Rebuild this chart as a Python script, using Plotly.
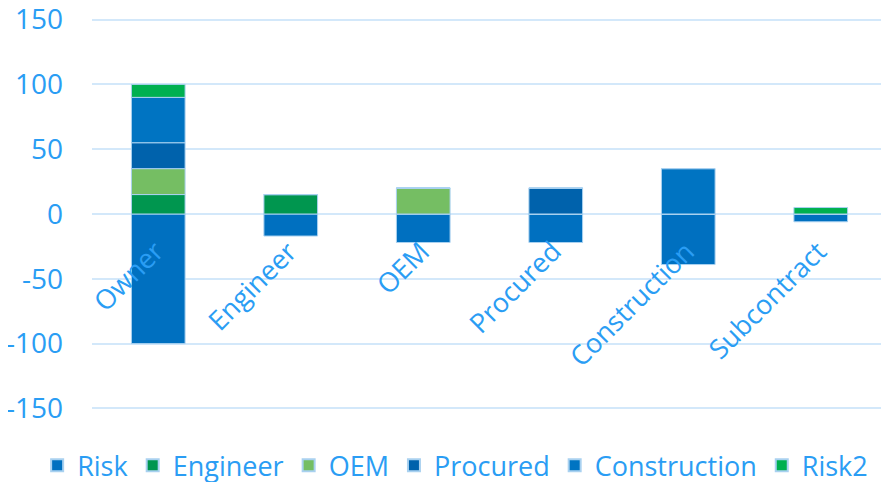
import plotly.graph_objects as go

categories = ["Owner", "Engineer", "OEM", "Procured", "Construction", "Subcontract"]
series_names = ["Risk", "Engineer", "OEM", "Procured", "Construction", "Risk2"]
risk = [-100, -17, -22, -22, -39, -6]
engineer = [15, 15, 0, 0, 0, 0]
oem = [20, 0, 20, 0, 0, 0]
procured = [20, 0, 0, 20, 0, 0]
construction = [35, 0, 0, 0, 35, 0]
risk2 = [10, 0, 0, 0, 0, 5]
y_ticks = [-150, -100, -50, 0, 50, 100, 150]

colors = ["#0070C0", "#00964F", "#75BE63", "#0062AC", "#0074C2", "#00B050"]
values = [risk, engineer, oem, procured, construction, risk2]

label_color = "#2A9DF4"
grid_color = "#D3E8FA"

fig = go.Figure()
for name, vals, col in zip(series_names, values, colors):
    fig.add_trace(go.Bar(
        x=categories, y=vals, name=name,
        marker=dict(color=col, line=dict(color="#A9D1F0", width=1)),
        width=0.405,
    ))

for c in categories:
    fig.add_annotation(
        x=c, y=0, xref="x", yref="y", text=c, showarrow=False,
        textangle=-45, xanchor="right", yanchor="top",
        xshift=16, yshift=-16,
        font=dict(family="Open Sans", size=27, color=label_color),
    )

# page body has an 8px margin, so the figure is drawn at (8, 8) in the window
fig.update_layout(
    width=881, height=474,
    barmode="relative",
    plot_bgcolor="white", paper_bgcolor="white",
    margin=dict(l=84, r=2, t=9.4, b=71.4, autoexpand=False),
    font=dict(family="Open Sans", color=label_color),
    showlegend=True,
    legend=dict(
        orientation="h", xref="paper", x=-0.069, xanchor="left",
        yref="paper", y=-0.139, yanchor="middle",
        font=dict(family="Open Sans", size=27, color=label_color),
        traceorder="normal", itemsizing="constant",
        itemwidth=30, tracegroupgap=0,
    ),
    xaxis=dict(
        range=[-0.5, 5.5], showticklabels=False, showgrid=False,
        zeroline=False, showline=False, ticks="", automargin=False,
    ),
    yaxis=dict(
        range=[-152, 152], tickvals=y_ticks,
        ticktext=[str(v) for v in y_ticks],
        showgrid=True, gridcolor=grid_color, gridwidth=2,
        zeroline=True, zerolinecolor=grid_color, zerolinewidth=2,
        showline=False, ticks="", automargin=False,
        tickfont=dict(family="Open Sans", size=28, color=label_color),
        ticklabelstandoff=28, ticklabeloverflow="allow",
    ),
)

fig.write_html("out.html")
